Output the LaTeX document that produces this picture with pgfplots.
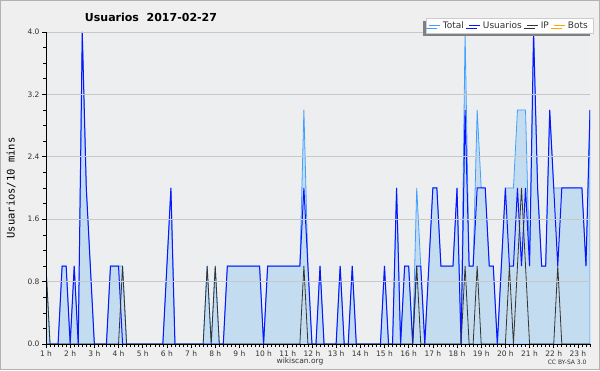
\documentclass[border=0pt]{standalone}
\usepackage{fontspec}
\setmainfont{DejaVu Sans}
\setmonofont{DejaVu Sans Mono}
\usepackage{pgfplots}
\usepackage{pgfplotstable}
\pgfplotsset{compat=1.18}
\usetikzlibrary{shadows}
\definecolor{bgout}{HTML}{EFEFEF}
\definecolor{bgplot}{HTML}{EDEEF0}
\definecolor{gridc}{HTML}{C8C8C8}
\definecolor{totc}{HTML}{3FA0FF}
\definecolor{fillc}{HTML}{C4DCF0}
\definecolor{usrc}{HTML}{0A14FF}
\definecolor{ipc}{HTML}{333333}
\definecolor{botc}{HTML}{FFA500}
\definecolor{txtc}{HTML}{333333}
\pgfplotstableread{
x T U IP B
0 1 0 1 0
1 0 0 0 0
2 0 0 0 0
3 0 0 0 0
4 1 1 0 0
5 1 1 0 0
6 0 0 0 0
7 1 1 0 0
8 0 0 0 0
9 4 4 0 0
10 2 2 0 0
11 1 1 0 0
12 0 0 0 0
13 0 0 0 0
14 0 0 0 0
15 0 0 0 0
16 1 1 0 0
17 1 1 0 0
18 1 1 0 0
19 1 0 1 0
20 0 0 0 0
21 0 0 0 0
22 0 0 0 0
23 0 0 0 0
24 0 0 0 0
25 0 0 0 0
26 0 0 0 0
27 0 0 0 0
28 0 0 0 0
29 0 0 0 0
30 1 1 0 0
31 2 2 0 0
32 0 0 0 0
33 0 0 0 0
34 0 0 0 0
35 0 0 0 0
36 0 0 0 0
37 0 0 0 0
38 0 0 0 0
39 0 0 0 0
40 1 0 1 0
41 0 0 0 0
42 1 0 1 0
43 0 0 0 0
44 0 0 0 0
45 1 1 0 0
46 1 1 0 0
47 1 1 0 0
48 1 1 0 0
49 1 1 0 0
50 1 1 0 0
51 1 1 0 0
52 1 1 0 0
53 1 1 0 0
54 0 0 0 0
55 1 1 0 0
56 1 1 0 0
57 1 1 0 0
58 1 1 0 0
59 1 1 0 0
60 1 1 0 0
61 1 1 0 0
62 1 1 0 0
63 1 1 0 0
64 3 2 1 0
65 1 1 0 0
66 0 0 0 0
67 0 0 0 0
68 1 1 0 0
69 0 0 0 0
70 0 0 0 0
71 0 0 0 0
72 0 0 0 0
73 1 1 0 0
74 0 0 0 0
75 0 0 0 0
76 1 1 0 0
77 0 0 0 0
78 0 0 0 0
79 0 0 0 0
80 0 0 0 0
81 0 0 0 0
82 0 0 0 0
83 0 0 0 0
84 1 1 0 0
85 0 0 0 0
86 0 0 0 0
87 2 2 0 0
88 0 0 0 0
89 1 1 0 0
90 1 1 0 0
91 0 0 0 0
92 2 1 1 0
93 1 1 0 0
94 0 0 0 0
95 1 1 0 0
96 2 2 0 0
97 2 2 0 0
98 1 1 0 0
99 1 1 0 0
100 1 1 0 0
101 1 1 0 0
102 2 2 0 0
103 0 0 0 0
104 4 3 1 0
105 1 1 0 0
106 1 1 0 0
107 3 2 1 0
108 2 2 0 0
109 2 2 0 0
110 1 1 0 0
111 1 1 0 0
112 0 0 0 0
113 1 1 0 0
114 2 2 0 0
115 2 1 1 0
116 2 1 0 0
117 3 2 1 0
118 3 1 2 0
119 3 2 1 0
120 1 1 0 0
121 4 4 0 0
122 2 2 0 0
123 1 1 0 0
124 1 1 0 0
125 3 3 0 0
126 2 2 0 0
127 2 1 1 0
128 2 2 0 0
129 2 2 0 0
130 2 2 0 0
131 2 2 0 0
132 2 2 0 0
133 2 2 0 0
134 1 1 0 0
135 3 3 0 0
}\data
\begin{document}
\begin{tikzpicture}[x=1pt,y=1pt]
\fill[bgout] (0,0) rectangle (600,370);
\draw[gray!60, line width=1pt] (0.5,0.5) rectangle (599.5,369.5);
\begin{axis}[
  at={(46pt,26pt)}, anchor=south west,
  width=544pt, height=312pt, scale only axis,
  xmin=0, xmax=135, ymin=0, ymax=4,
  axis background/.style={fill=bgplot},
  axis lines*=left,
  axis line style={black, line width=0.8pt},
  axis on top,
  ytick={0,0.8,1.6,2.4,3.2,4},
  yticklabels={0.0,0.8,1.6,2.4,3.2,4.0},
  minor y tick num=3,
  ymajorgrids,
  major grid style={gridc, line width=0.8pt},
  xtick={0,6,...,132},
  xticklabels={1 h,2 h,3 h,4 h,5 h,6 h,7 h,8 h,9 h,10 h,11 h,12 h,13 h,14 h,15 h,16 h,17 h,18 h,19 h,20 h,21 h,22 h,23 h},
  minor xtick={0,1,...,135},
  tick align=outside,
  tick style={black, line width=0.6pt},
  major tick length=4pt, minor tick length=3pt,
  tick label style={font=\fontsize{7.5}{8}\selectfont, text=txtc},
  yticklabel style={xshift=1pt},
  xticklabel style={yshift=1pt},
  legend columns=4,
  legend style={at={(1.0055,0.997)}, anchor=south east, draw=gray!40, fill=white,
    font=\fontsize{9}{10}\selectfont, text=txtc, inner xsep=3pt, inner ysep=1pt,
    drop shadow={shadow xshift=-3pt, shadow yshift=-3pt, fill=gray, opacity=1},
    /tikz/every odd column/.append style={column sep=0pt},
    /tikz/every even column/.append style={column sep=3pt}},
  legend image code/.code={\draw[#1, line width=1pt, fill=none] (0pt,0pt) -- (11pt,0pt);},
]
\addplot[draw=totc, fill=fillc, line width=0.8pt] table[x=x,y=T]{\data} \closedcycle;
\addlegendentry{Total}
\addplot[draw=usrc, line width=1pt] table[x=x,y=U]{\data};
\addlegendentry{Usuarios}
\addplot[draw=ipc, line width=0.8pt] table[x=x,y=IP]{\data};
\addlegendentry{IP}
\addplot[draw=botc, line width=0.8pt] table[x=x,y=B]{\data};
\addlegendentry{Bots}
\end{axis}
\node[font=\bfseries\fontsize{11}{13}\selectfont, text=black] at (151,353) {Usuarios\ \ 2017-02-27};
\node[rotate=90, font=\ttfamily\fontsize{10.5}{12}\selectfont, text=black] at (11,182) {Usuarios/10 mins};
\node[font=\fontsize{7.5}{9}\selectfont, text=txtc] at (300,9) {wikiscan.org};
\node[font=\fontsize{6}{7}\selectfont, text=txtc, anchor=east] at (590,8) {CC BY-SA 3.0};
\end{tikzpicture}
\end{document}
